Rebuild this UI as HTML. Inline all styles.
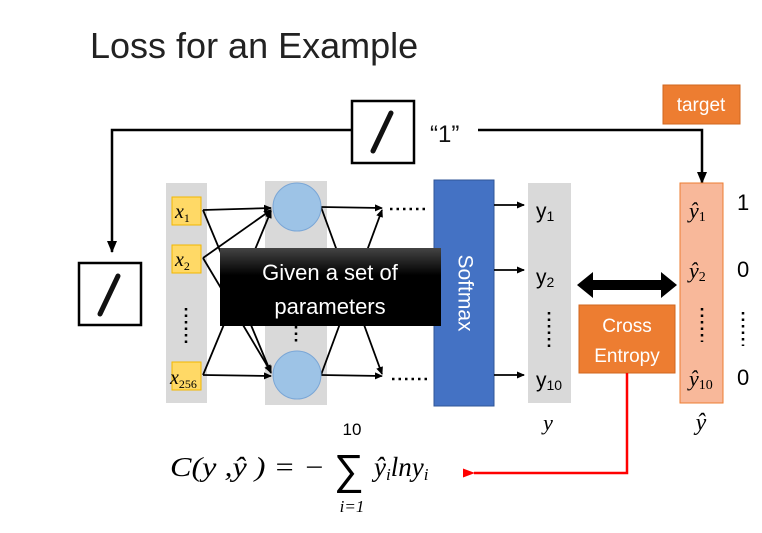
<!DOCTYPE html>
<html><head><meta charset="utf-8"><style>
html,body{margin:0;padding:0;background:#fff;}
svg{display:block;}
text{font-family:"Liberation Sans",sans-serif;}
.m{font-family:"Liberation Serif",serif;font-style:italic;}
</style></head><body>
<svg width="762" height="533" viewBox="0 0 762 533" xmlns="http://www.w3.org/2000/svg">
<defs>
<marker id="ah" markerWidth="8" markerHeight="8" refX="7" refY="4" orient="auto" markerUnits="userSpaceOnUse"><path d="M0,0.5 L8,4 L0,7.5 z" fill="#000"/></marker>
<marker id="ahb" markerWidth="12" markerHeight="12" refX="11" refY="6" orient="auto" markerUnits="userSpaceOnUse"><path d="M0,1 L12,6 L0,11 z" fill="#000"/></marker>
<marker id="ahr" markerWidth="12" markerHeight="10" refX="1" refY="5" orient="auto" markerUnits="userSpaceOnUse"><path d="M12,0.5 L0,5 L12,9.5 z" fill="#f00"/></marker>
<linearGradient id="bg" x1="0" y1="0" x2="0" y2="1"><stop offset="0" stop-color="#444"/><stop offset="0.35" stop-color="#000"/><stop offset="1" stop-color="#000"/></linearGradient>
</defs>
<text x="90" y="58" font-size="36" fill="#222">Loss for an Example</text>

<polyline points="352,130 112,130 112,252" fill="none" stroke="#000" stroke-width="2.5" marker-end="url(#ahb)"/>
<polyline points="478,130 702,130 702,183" fill="none" stroke="#000" stroke-width="2.5" marker-end="url(#ahb)"/>
<rect x="352" y="101" width="62" height="62" fill="#fff" stroke="#000" stroke-width="2.5"/>
<line x1="391" y1="113" x2="373" y2="151" stroke="#111" stroke-width="5" stroke-linecap="round"/>
<text x="430" y="142" font-size="24" fill="#111">“1”</text>

<rect x="79" y="263" width="62" height="62" fill="#fff" stroke="#000" stroke-width="2.5"/>
<line x1="118" y1="276" x2="100" y2="314" stroke="#111" stroke-width="5" stroke-linecap="round"/>

<rect x="166" y="183" width="41" height="220" fill="#d9d9d9"/>
<rect x="265" y="181" width="62" height="224" fill="#d9d9d9"/>
<rect x="172" y="197" width="29" height="28" fill="#ffd966" stroke="#f2b800"/>
<rect x="172" y="245" width="29" height="28" fill="#ffd966" stroke="#f2b800"/>
<rect x="172" y="362" width="29" height="28" fill="#ffd966" stroke="#f2b800"/>
<text x="175" y="218" class="m" font-size="20">x<tspan font-size="12" dy="4" font-style="normal">1</tspan></text>
<text x="175" y="266" class="m" font-size="20">x<tspan font-size="12" dy="4" font-style="normal">2</tspan></text>
<text x="170" y="384" class="m" font-size="20">x<tspan font-size="12" dy="4" font-style="normal">256</tspan></text>
<line x1="186" y1="308" x2="186" y2="346" stroke="#000" stroke-width="2.5" stroke-dasharray="2.5,4"/>

<g stroke="#000" stroke-width="1.8" fill="none">
<line x1="203" y1="210" x2="271" y2="208" marker-end="url(#ah)"/>
<line x1="203" y1="210" x2="271" y2="373" marker-end="url(#ah)"/>
<line x1="203" y1="258" x2="271" y2="210" marker-end="url(#ah)"/>
<line x1="203" y1="258" x2="271" y2="372" marker-end="url(#ah)"/>
<line x1="203" y1="375" x2="271" y2="211" marker-end="url(#ah)"/>
<line x1="203" y1="375" x2="271" y2="376" marker-end="url(#ah)"/>
<line x1="321" y1="207" x2="382" y2="208" marker-end="url(#ah)"/>
<line x1="321" y1="207" x2="382" y2="374" marker-end="url(#ah)"/>
<line x1="321" y1="375" x2="382" y2="210" marker-end="url(#ah)"/>
<line x1="321" y1="375" x2="382" y2="376" marker-end="url(#ah)"/>
</g>
<circle cx="297" cy="207" r="24" fill="#9dc3e6" stroke="#7aa6d6"/>
<circle cx="297" cy="375" r="24" fill="#9dc3e6" stroke="#7aa6d6"/>
<line x1="296" y1="326" x2="296" y2="345" stroke="#000" stroke-width="2.5" stroke-dasharray="2.5,4"/>
<line x1="390" y1="209" x2="428" y2="209" stroke="#000" stroke-width="2.5" stroke-dasharray="2.5,4"/>
<line x1="392" y1="379" x2="430" y2="379" stroke="#000" stroke-width="2.5" stroke-dasharray="2.5,4"/>

<rect x="434" y="180" width="60" height="226" fill="#4472c4" stroke="#2f5597"/>
<text x="464" y="293" font-size="21" fill="#fff" text-anchor="middle" transform="rotate(90 464 293)" dominant-baseline="middle">Softmax</text>

<rect x="220" y="248" width="221" height="78" fill="url(#bg)"/>
<text x="330" y="280" font-size="22" fill="#fff" text-anchor="middle">Given a set of</text>
<text x="330" y="314" font-size="22" fill="#fff" text-anchor="middle">parameters</text>

<g stroke="#000" stroke-width="1.8">
<line x1="494" y1="205" x2="524" y2="205" marker-end="url(#ah)"/>
<line x1="494" y1="270" x2="524" y2="270" marker-end="url(#ah)"/>
<line x1="494" y1="375" x2="524" y2="375" marker-end="url(#ah)"/>
</g>
<rect x="528" y="183" width="43" height="220" fill="#d9d9d9"/>
<text x="536" y="218" font-size="21">y<tspan font-size="14" dy="3">1</tspan></text>
<text x="536" y="284" font-size="21">y<tspan font-size="14" dy="3">2</tspan></text>
<text x="536" y="387" font-size="21">y<tspan font-size="14" dy="3">10</tspan></text>
<line x1="549" y1="312" x2="549" y2="348" stroke="#000" stroke-width="2.5" stroke-dasharray="2.5,4"/>
<text x="548" y="430" class="m" font-size="22" text-anchor="middle">y</text>

<path d="M577,285 L593,272 L593,280 L661,280 L661,272 L677,285 L661,298 L661,290 L593,290 L593,298 z" fill="#000"/>

<rect x="579" y="305" width="96" height="68" fill="#ed7d31" stroke="#d0661e"/>
<text x="627" y="332" font-size="19" fill="#fff" text-anchor="middle">Cross</text>
<text x="627" y="362" font-size="19" fill="#fff" text-anchor="middle">Entropy</text>
<polyline points="627,373 627,473 474,473" fill="none" stroke="#f00" stroke-width="2.5" marker-end="url(#ahr)"/>

<rect x="663" y="85" width="77" height="39" fill="#ed7d31" stroke="#d0661e"/>
<text x="701" y="111" font-size="19" fill="#fff" text-anchor="middle">target</text>

<rect x="680" y="183" width="43" height="220" fill="#f8b89a" stroke="#ed7d31"/>
<text x="689" y="218" class="m" font-size="22">ŷ<tspan font-size="14" dy="3" font-style="normal">1</tspan></text>
<text x="689" y="278" class="m" font-size="22">ŷ<tspan font-size="14" dy="3" font-style="normal">2</tspan></text>
<text x="689" y="386" class="m" font-size="22">ŷ<tspan font-size="14" dy="3" font-style="normal">10</tspan></text>
<line x1="702" y1="308" x2="702" y2="342" stroke="#000" stroke-width="2.5" stroke-dasharray="2.5,4"/>
<text x="701" y="430" class="m" font-size="24" text-anchor="middle">ŷ</text>
<text x="737" y="210" font-size="22">1</text>
<text x="737" y="277" font-size="22">0</text>
<line x1="743" y1="312" x2="743" y2="346" stroke="#000" stroke-width="2.5" stroke-dasharray="2.5,4"/>
<text x="737" y="385" font-size="22">0</text>

<text x="170" y="476" class="m" font-size="27" textLength="155" lengthAdjust="spacingAndGlyphs">C(y ,ŷ ) = −</text>
<text x="334" y="484" font-size="42" font-family="DejaVu Serif,serif">∑</text>
<text x="352" y="435" font-size="17" font-family="Liberation Serif,serif" text-anchor="middle">10</text>
<text x="352" y="512" class="m" font-size="17" text-anchor="middle">i=1</text>
<text x="374" y="476" class="m" font-size="27">ŷ<tspan font-size="17" dy="4">i</tspan><tspan dy="-4">lny</tspan><tspan font-size="17" dy="4">i</tspan></text>
</svg>
</body></html>
